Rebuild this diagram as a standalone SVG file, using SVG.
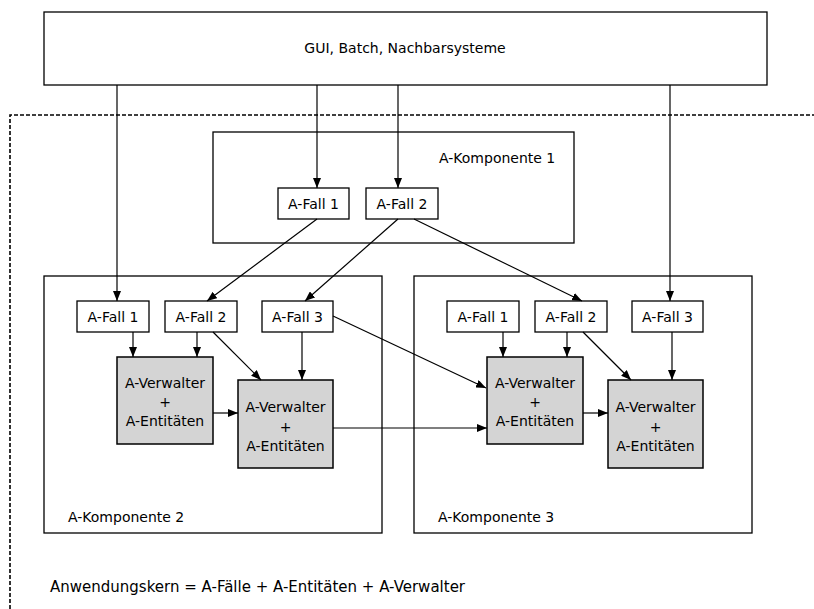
<svg xmlns="http://www.w3.org/2000/svg" width="814" height="609" viewBox="0 0 814 609">
<style>
text{font-family:"DejaVu Sans","Liberation Sans",sans-serif;font-size:14px;fill:#000}
.c{text-anchor:middle}
.box{fill:#fff;stroke:#000;stroke-width:1.3}
.gray{fill:#d4d4d4;stroke:#000;stroke-width:1.5}
.arr{stroke:#000;stroke-width:1.2;fill:none;marker-end:url(#ah)}
</style>
<defs>
<marker id="ah" markerUnits="userSpaceOnUse" viewBox="0 0 10 8" refX="10" refY="4" markerWidth="10" markerHeight="8" orient="auto">
<path d="M0,0 L10,4 L0,8 z" fill="#000"/>
</marker>
</defs>
<rect width="814" height="609" fill="#fff"/>
<path d="M10,609 V115 H814" fill="none" stroke="#000" stroke-width="1.6" stroke-dasharray="4,2"/>
<g id="top"><rect class="box" x="44" y="12" width="723" height="73"/><text class="c" x="405" y="53">GUI, Batch, Nachbarsysteme</text></g>
<g id="k1"><rect class="box" x="213" y="132" width="361" height="111"/><text x="439" y="163">A-Komponente 1</text></g>
<g id="k1f1"><rect class="box" x="278" y="188" width="71" height="31"/><text class="c" x="313.5" y="209">A-Fall 1</text></g>
<g id="k1f2"><rect class="box" x="366" y="188" width="72" height="31"/><text class="c" x="402" y="209">A-Fall 2</text></g>
<g id="k2"><rect class="box" x="44" y="276" width="338" height="257"/><text x="68" y="522">A-Komponente 2</text></g>
<g id="k2f1"><rect class="box" x="77" y="301" width="72" height="31"/><text class="c" x="113" y="322">A-Fall 1</text></g>
<g id="k2f2"><rect class="box" x="165" y="301" width="72" height="31"/><text class="c" x="201" y="322">A-Fall 2</text></g>
<g id="k2f3"><rect class="box" x="262" y="301" width="71" height="31"/><text class="c" x="297.5" y="322">A-Fall 3</text></g>
<g id="k2v1"><rect class="gray" x="117" y="357" width="96" height="87"/><text class="c" x="165" y="388">A-Verwalter</text><text class="c" x="165" y="407">+</text><text class="c" x="165" y="426">A-Entitäten</text></g>
<g id="k2v2"><rect class="gray" x="238" y="380" width="95" height="88"/><text class="c" x="285.5" y="412">A-Verwalter</text><text class="c" x="285.5" y="432">+</text><text class="c" x="285.5" y="451">A-Entitäten</text></g>
<g id="k3"><rect class="box" x="414" y="276" width="338" height="257"/><text x="438" y="522">A-Komponente 3</text></g>
<g id="k3f1"><rect class="box" x="447" y="301" width="72" height="31"/><text class="c" x="483" y="322">A-Fall 1</text></g>
<g id="k3f2"><rect class="box" x="535" y="301" width="72" height="31"/><text class="c" x="571" y="322">A-Fall 2</text></g>
<g id="k3f3"><rect class="box" x="632" y="301" width="71" height="31"/><text class="c" x="667.5" y="322">A-Fall 3</text></g>
<g id="k3v1"><rect class="gray" x="487" y="357" width="96" height="87"/><text class="c" x="535" y="388">A-Verwalter</text><text class="c" x="535" y="407">+</text><text class="c" x="535" y="426">A-Entitäten</text></g>
<g id="k3v2"><rect class="gray" x="608" y="380" width="95" height="88"/><text class="c" x="655.5" y="412">A-Verwalter</text><text class="c" x="655.5" y="432">+</text><text class="c" x="655.5" y="451">A-Entitäten</text></g>
<g id="legend"><text x="50" y="592" style="font-size:15px">Anwendungskern = A-Fälle + A-Entitäten + A-Verwalter</text></g>
<g id="connectors">
<line class="arr" x1="117" y1="85" x2="117" y2="301"/>
<line class="arr" x1="317" y1="85" x2="317" y2="188"/>
<line class="arr" x1="398" y1="85" x2="398" y2="188"/>
<line class="arr" x1="670" y1="85" x2="670" y2="301"/>
<line class="arr" x1="317" y1="219" x2="207" y2="301"/>
<line class="arr" x1="398" y1="219" x2="305" y2="301"/>
<line class="arr" x1="414" y1="219" x2="582" y2="301"/>
<line class="arr" x1="133" y1="332" x2="133" y2="357"/>
<line class="arr" x1="197" y1="332" x2="197" y2="357"/>
<line class="arr" x1="213" y1="332" x2="261" y2="380"/>
<line class="arr" x1="302" y1="332" x2="302" y2="380"/>
<line class="arr" x1="213" y1="413" x2="238" y2="413"/>
<line class="arr" x1="333" y1="428" x2="487" y2="428"/>
<line class="arr" x1="333" y1="316" x2="486" y2="388"/>
<line class="arr" x1="503" y1="332" x2="503" y2="357"/>
<line class="arr" x1="567" y1="332" x2="567" y2="357"/>
<line class="arr" x1="583" y1="332" x2="631" y2="380"/>
<line class="arr" x1="672" y1="332" x2="672" y2="380"/>
<line class="arr" x1="583" y1="413" x2="608" y2="413"/>
</g>
</svg>
